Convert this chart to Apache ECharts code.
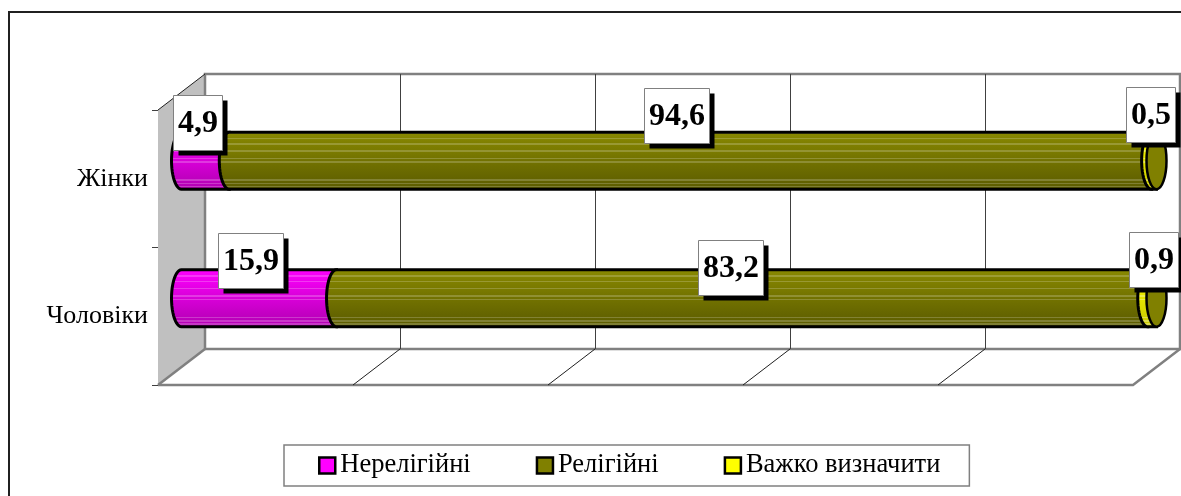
<!DOCTYPE html>
<html>
<head>
<meta charset="utf-8">
<style>html,body{margin:0;padding:0;background:#fff;overflow:hidden}#c{width:1181px;height:496px}</style>
<script src="https://cdn.jsdelivr.net/npm/echarts@6/dist/echarts.min.js"></script>
</head>
<body>
<div id="c"></div>
<script>
const categories = ['Чоловіки', 'Жінки'];
const seriesNames = ['Нерелігійні', 'Релігійні', 'Важко визначити'];
const nonReligious = [15.9, 4.9];
const religious = [83.2, 94.6];
const hardToSay = [0.9, 0.5];
const xTicks = [0, 20, 40, 60, 80, 100];

const FONT = '"Liberation Serif","Times New Roman",serif';
const DEPTH = [47, -36];                    // oblique offset of the back wall
const BAR_PLANE = [23.5, -18];              // cylinders stand mid-way in depth
const BAR_RATIO = 0.415;
const CAP_RX = 10;
const STRIPES = [.04, .13, .22, .34, .46, .52, .82, .88, .93];
// label box centre relative to the segment centre, [series][category]
const labelNudge = [
  [[-8.5, -37.75], [-8, -38]],
  [[-11.6, -30.75], [-13.5, -45]],
  [[1, -39], [-3.5, -46]]
];

function bandGradient(top, bottom, stripeAmount) {
  const h = c => [1, 3, 5].map(i => parseInt(c.substr(i, 2), 16));
  const A = h(top), B = h(bottom);
  const at = t => A.map((v, i) => v + (B[i] - v) * t);
  const css = v => 'rgb(' + v.map(Math.round).join(',') + ')';
  const stops = [{offset: 0, color: top}];
  STRIPES.forEach(s => {
    const base = at(s);
    const light = base.map(v => v + (255 - v) * stripeAmount);
    stops.push({offset: s - .014, color: css(base)}, {offset: s - .012, color: css(light)},
               {offset: s + .012, color: css(light)}, {offset: s + .014, color: css(base)});
  });
  stops.push({offset: 1, color: bottom});
  return new echarts.graphic.LinearGradient(0, 0, 0, 1, stops);
}
const fills = [
  () => bandGradient('#ff00ff', '#b000b0', .22),
  () => bandGradient('#8a8a00', '#5a5a00', .2),
  () => bandGradient('#ffff00', '#c8c800', .3)
];
const solid = ['#ff00ff', '#808000', '#ffff00'];

function segmentRenderer(si) {
  return function (params, api) {
    const cat = api.value(0);
    const a = api.coord([api.value(1), cat]);
    const b = api.coord([api.value(2), cat]);
    const h = api.size([0, 1])[1] * BAR_RATIO;
    const cy = a[1] + BAR_PLANE[1];
    const x0 = a[0] + BAR_PLANE[0], x1 = b[0] + BAR_PLANE[0];
    const pts = [[x1, cy - h / 2], [x0, cy - h / 2]];
    for (let i = 1; i < 24; i++) {
      const t = Math.PI / 2 + Math.PI * i / 24;
      pts.push([x0 + CAP_RX * Math.cos(t), cy - h / 2 * Math.sin(t)]);
    }
    pts.push([x0, cy + h / 2], [x1, cy + h / 2]);
    const style = {fill: fills[si](), stroke: '#000', lineWidth: 3};
    const children = [{type: 'polygon', shape: {points: pts}, style}];
    if (si === 2) {
      children.push({
        type: 'ellipse',
        shape: {cx: x1, cy, rx: CAP_RX, ry: h / 2},
        style: {fill: '#808000', stroke: '#000', lineWidth: 2.5}
      });
    }
    return {type: 'group', children};
  };
}

const stack = categories.map((_, i) => {
  const a = nonReligious[i], b = a + religious[i], c = b + hardToSay[i];
  return [[0, a], [a, b], [b, c]];
});
const values = [nonReligious, religious, hardToSay];

const measure = document.createElement('canvas').getContext('2d');
const LABEL_FONT = 'bold 32px ' + FONT;
measure.font = LABEL_FONT;

function labelRenderer(params, api) {
  const cat = api.value(0), si = api.value(3);
  const c = api.coord([(api.value(1) + api.value(2)) / 2, cat]);
  const text = values[si][cat].toFixed(1).replace('.', ',');
  const nudge = labelNudge[si][cat];
  const cx = c[0] + BAR_PLANE[0] + nudge[0], cy = c[1] + BAR_PLANE[1] + nudge[1];
  const w = measure.measureText(text).width + 9, h = 55;
  const x = Math.round(cx - w / 2), y = Math.round(cy - h / 2);
  return {type: 'group', children: [
    {type: 'rect', shape: {x: x + 5.5, y: y + 5.5, width: w, height: h}, style: {fill: '#000'}},
    {type: 'rect', shape: {x: x + .5, y: y + .5, width: w, height: h},
     style: {fill: '#fff', stroke: '#808080', lineWidth: 1}},
    {type: 'text', style: {x: x + w / 2 + .5, y: y + h / 2 + 1, text, font: LABEL_FONT, fill: '#000',
      align: 'center', verticalAlign: 'middle'}}
  ]};
}

function frameRenderer(params) {
  const g = params.coordSys;
  const L = g.x, T = g.y, R = g.x + g.width, B = g.y + g.height;
  const dx = DEPTH[0], dy = DEPTH[1];
  const edge = {fill: 'none', stroke: '#808080', lineWidth: 2.5};
  return {type: 'group', children: [
    {type: 'polygon', shape: {points: [[L, T], [L + dx, T + dy], [L + dx, B + dy], [L, B]]},
     style: {fill: '#c0c0c0'}},
    {type: 'polyline', shape: {points: [[L + dx, B + dy], [L + dx, T + dy], [R + dx, T + dy], [R + dx, B + dy], [L + dx, B + dy]]}, style: edge},
    {type: 'polyline', shape: {points: [[L, B], [R, B], [R + dx, B + dy]]}, style: edge},
    {type: 'line', shape: {x1: L, y1: B, x2: L + dx, y2: B + dy}, style: edge},
    {type: 'line', shape: {x1: L, y1: T, x2: L + dx, y2: T + dy}, style: {stroke: '#202020', lineWidth: 1}}
  ]};
}

function gridRenderer(params, api) {
  const g = params.coordSys;
  const x = Math.round(api.coord([api.value(0), 0])[0]);
  const T = g.y, B = g.y + g.height;
  return {type: 'group', children: [
    {type: 'line', shape: {x1: x + DEPTH[0] + .5, y1: T + DEPTH[1], x2: x + DEPTH[0] + .5, y2: B + DEPTH[1]},
     style: {stroke: '#404040', lineWidth: 1}},
    {type: 'line', shape: {x1: x, y1: B, x2: x + DEPTH[0], y2: B + DEPTH[1]},
     style: {stroke: '#202020', lineWidth: 1}}
  ]};
}

const series = [
  {type: 'custom', name: 'frame', silent: true, z: 1, renderItem: frameRenderer, data: [[0]], encode: {x: 0}},
  {type: 'custom', name: 'grid', silent: true, z: 2, renderItem: gridRenderer,
   data: xTicks.slice(1, -1).map(v => [v]), encode: {x: 0}}
];
seriesNames.forEach((name, si) => {
  series.push({
    type: 'custom', name, z: 3 + si, renderItem: segmentRenderer(si),
    itemStyle: {color: solid[si]},
    encode: {y: 0, x: [1, 2]},
    data: categories.map((_, ci) => [ci, stack[ci][si][0], stack[ci][si][1]])
  });
});
const labelData = [];
seriesNames.forEach((_, si) => categories.forEach((_, ci) =>
  labelData.push([ci, stack[ci][si][0], stack[ci][si][1], si])));
series.push({type: 'custom', name: 'labels', silent: true, z: 10, renderItem: labelRenderer,
  encode: {y: 0, x: [1, 2]}, data: labelData});

const chart = echarts.init(document.getElementById('c'), null, {renderer: 'canvas'});
chart.setOption({
  animation: false,
  backgroundColor: '#fff',
  graphic: [{
    type: 'rect', silent: true, z: 0,
    shape: {x: 9, y: 12, width: 1400, height: 800},
    style: {fill: 'none', stroke: '#202020', lineWidth: 2}
  }],
  grid: {left: 158, top: 110, width: 975, height: 275, containLabel: false},
  xAxis: {type: 'value', min: 0, max: 100, interval: 20, show: false},
  yAxis: {
    type: 'category', data: categories,
    axisLine: {show: false},
    axisTick: {show: true, length: 6, lineStyle: {color: '#404040', width: 1}},
    axisLabel: {margin: 10, color: '#000', fontFamily: FONT, fontSize: 26, padding: [3, 0, 0, 0]},
    splitLine: {show: false}
  },
  legend: {
    left: 284, top: 445,
    orient: 'horizontal',
    padding: [7, 29, 7, 34],
    itemGap: 65,
    itemWidth: 16, itemHeight: 16,
    borderColor: '#808080', borderWidth: 1.5, backgroundColor: '#fff',
    textStyle: {fontFamily: FONT, fontSize: 26.5, lineHeight: 20, color: '#000'},
    data: seriesNames.map((name, i) => ({
      name, icon: 'rect',
      itemStyle: {color: solid[i], borderColor: '#000', borderWidth: 2.5}
    }))
  },
  series
});
</script>
</body>
</html>
